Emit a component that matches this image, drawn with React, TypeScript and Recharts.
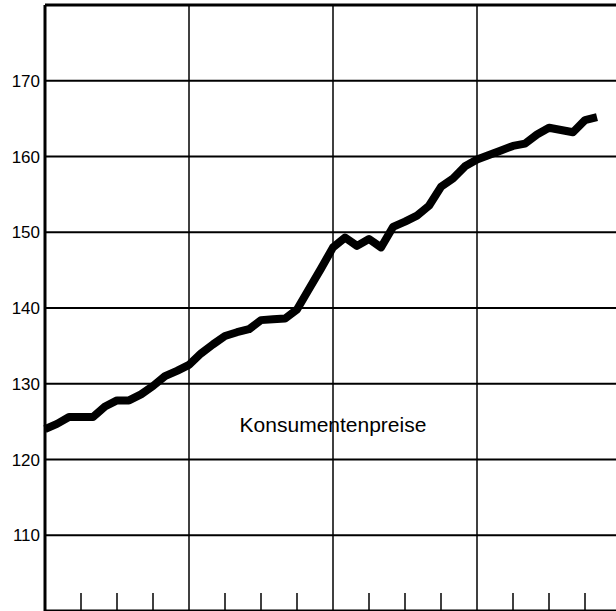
import * as React from 'react';
import { LineChart, Line, XAxis, YAxis, CartesianGrid, ReferenceLine, ReferenceDot } from 'recharts';

// Monthly consumer price index, 4 years (last month missing)
const months: number[] = Array.from({ length: 47 }, (_, i) => i);
const prices: number[] = [
  124.0, 124.7, 125.6, 125.6, 125.6, 127.0, 127.8, 127.8, 128.6, 129.7, 131.0, 131.7,
  132.5, 134.0, 135.2, 136.3, 136.8, 137.2, 138.4, 138.5, 138.6, 139.8, 142.5, 145.2,
  148.0, 149.3, 148.2, 149.1, 148.0, 150.7, 151.4, 152.2, 153.5, 156.0, 157.1, 158.7,
  159.6, 160.2, 160.8, 161.4, 161.7, 162.9, 163.8, 163.5, 163.2, 164.8, 165.2,
];
const yTicks: number[] = [110, 120, 130, 140, 150, 160, 170];
const quarterTicks: number[] = [3, 6, 9, 15, 18, 21, 27, 30, 33, 39, 42, 45];
const yearLines: number[] = [12, 24, 36];
const seriesLabel = 'Konsumentenpreise';

const data = months.map((m, i) => ({ m, v: prices[i] }));

// empty tick label, keeps the tick line
const NoLabel = () => <g />;

export default function App() {
  return (
    <div style={{ position: 'absolute', left: 0, top: 0, width: 616, height: 611, overflow: 'hidden', background: '#fff', fontFamily: '"Liberation Sans", Arial, sans-serif' }}>
      <LineChart width={624} height={611} data={data} margin={{ top: 5, right: 3, bottom: 0, left: 0 }}>
        <CartesianGrid vertical={false} stroke="#000" strokeWidth={2} />
        <XAxis
          dataKey="m"
          type="number"
          domain={[0, 48]}
          ticks={quarterTicks}
          tick={<NoLabel />}
          height={2}
          mirror
          tickSize={18}
          tickLine={{ stroke: '#000', strokeWidth: 1.5 }}
          axisLine={{ stroke: '#000', strokeWidth: 3 }}
        />
        <YAxis
          type="number"
          domain={[100, 180]}
          ticks={yTicks}
          width={45}
          tickLine={false}
          tickSize={3}
          tickMargin={2}
          axisLine={{ stroke: '#000', strokeWidth: 3 }}
          tick={{ fill: '#000', fontSize: 17 }}
        />
        <ReferenceLine y={180} stroke="#000" strokeWidth={3} />
        {yearLines.map((x) => (
          <ReferenceLine key={'yr' + x} x={x} stroke="#000" strokeWidth={1.5} />
        ))}
        <ReferenceDot
          x={24}
          y={124.6}
          r={0}
          stroke="none"
          fill="none"
          label={{ value: seriesLabel, position: 'center', fill: '#000', fontSize: 21 }}
        />
        <Line
          type="linear"
          dataKey="v"
          stroke="#000"
          strokeWidth={8}
          dot={false}
          strokeLinejoin="round"
          isAnimationActive={false}
        />
      </LineChart>
    </div>
  );
}
